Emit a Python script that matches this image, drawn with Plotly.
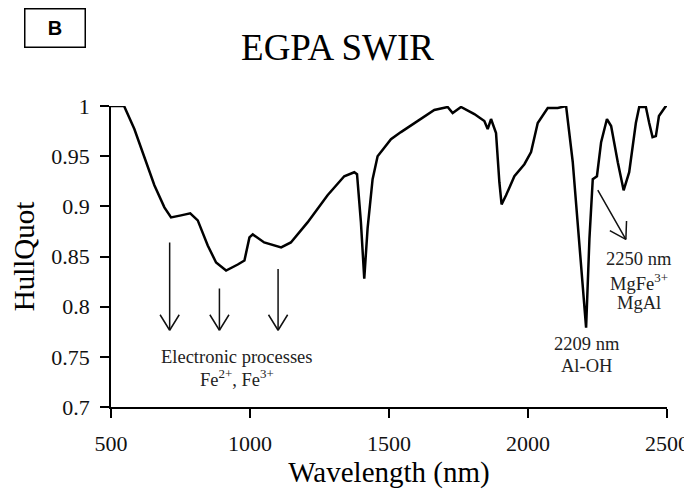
import math
import plotly.graph_objects as go

# ---- data ----
wavelength = [500, 520, 547, 584, 620, 656, 692, 716, 752, 785, 812, 848, 878, 914, 956, 980,
              998, 1010, 1051, 1112, 1147, 1207, 1279, 1339, 1375, 1385, 1399, 1411, 1423, 1441,
              1459, 1507, 1543, 1591, 1663, 1711, 1729, 1759, 1807, 1843, 1855, 1867, 1885, 1897,
              1905, 1921, 1951, 1987, 2011, 2035, 2071, 2107, 2137, 2161, 2179, 2209, 2221, 2233,
              2248, 2263, 2284, 2299, 2323, 2344, 2364, 2388, 2400, 2424, 2436, 2448, 2460, 2471,
              2496, 2500]
hullquot = [1.0, 1.0, 1.0, 0.977, 0.950, 0.921, 0.899, 0.889, 0.891, 0.893, 0.886, 0.861, 0.844,
            0.836, 0.842, 0.846, 0.869, 0.872, 0.864, 0.859, 0.864, 0.884, 0.911, 0.930, 0.934,
            0.932, 0.884, 0.828, 0.878, 0.927, 0.950, 0.967, 0.974, 0.983, 0.996, 0.999, 0.993,
            0.999, 0.992, 0.985, 0.977, 0.987, 0.973, 0.924, 0.902, 0.911, 0.930, 0.942, 0.954,
            0.983, 0.998, 0.998, 1.0, 0.944, 0.884, 0.779, 0.868, 0.927, 0.930, 0.964, 0.987,
            0.980, 0.944, 0.916, 0.934, 0.983, 0.999, 0.999, 0.983, 0.969, 0.970, 0.990, 1.0, 1.0]

x_ticks = [500, 1000, 1500, 2000, 2500]
y_ticks = [0.7, 0.75, 0.8, 0.85, 0.9, 0.95, 1.0]
y_ticktext = ["0.7", "0.75", "0.8", "0.85", "0.9", "0.95", "1"]

# arrows: (tail wavelength, tail value, tip wavelength, tip value)
arrows = [
    (711, 0.8654, 711, 0.7765),
    (890, 0.8195, 890, 0.7765),
    (1101, 0.839, 1101, 0.7765),
    (2248, 0.9177, 2352, 0.867),
]

SERIF = "Times New Roman, Liberation Serif, serif"

W, H = 692, 498
ML, MR, MT, MB = 103, 33, 98, 99
XR = [500, 2500]
YR = [0.7, 1.0]
PW, PH = W - ML - MR, H - MT - MB
px_per_x = PW / (XR[1] - XR[0])
px_per_y = PH / (YR[1] - YR[0])

fig = go.Figure()
fig.add_trace(go.Scatter(x=wavelength, y=hullquot, mode="lines",
                         line=dict(color="black", width=2.5), showlegend=False,
                         hoverinfo="skip"))

annotations = []
ARROW_COLOR = "#111"
HEAD_LEN, HEAD_HALF = 17, 10.5
for tx, ty, hx, hy in arrows:
    # shaft
    annotations.append(dict(x=hx, y=hy, ax=tx, ay=ty, xref="x", yref="y",
                            axref="x", ayref="y", text="", showarrow=True, arrowhead=0,
                            arrowwidth=1.5, arrowcolor=ARROW_COLOR, standoff=0, startstandoff=0))
    # open V head, drawn in screen pixels from the tip
    dx = (hx - tx) * px_per_x
    dy = -(hy - ty) * px_per_y
    L = math.hypot(dx, dy)
    ux, uy = dx / L, dy / L
    px_, py_ = -uy, ux
    for s in (1, -1):
        ox = -HEAD_LEN * ux + s * HEAD_HALF * px_
        oy = -HEAD_LEN * uy + s * HEAD_HALF * py_
        annotations.append(dict(x=hx, y=hy, ax=ox, ay=oy, xref="x", yref="y",
                                axref="pixel", ayref="pixel", text="", showarrow=True,
                                arrowhead=0, arrowwidth=1.5, arrowcolor=ARROW_COLOR,
                                standoff=0, startstandoff=0))

txt_font = dict(family=SERIF, size=18.5, color="#222")
labels = [
    (954, 0.7494, "Electronic processes"),
    (954, 0.7285, "Fe<sup>2+</sup>, Fe<sup>3+</sup>"),
    (2211, 0.763, "2209 nm"),
    (2211, 0.7405, "Al-OH"),
    (2400, 0.848, "2250 nm"),
    (2400, 0.8247, "MgFe<sup>3+</sup>"),
    (2400, 0.804, "MgAl"),
]
for lx, ly, t in labels:
    annotations.append(dict(x=lx, y=ly, xref="x", yref="y", text=t, showarrow=False,
                            font=txt_font, xanchor="center", yanchor="middle"))

# panel letter box (centre at ~(47, 20) in figure pixels)
annotations.append(dict(x=(47 - ML) / PW, y=(H - MB - 20) / PH,
                        xref="paper", yref="paper", text="<b>B</b>",
                        showarrow=False, font=dict(family="Arial, Liberation Sans, sans-serif",
                                                   size=20, color="black"),
                        width=57, height=35, bordercolor="black", borderwidth=1.5,
                        bgcolor="white", xanchor="center", yanchor="middle"))

fig.update_layout(
    width=W, height=H,
    margin=dict(l=ML, r=MR, t=MT, b=MB, autoexpand=False),
    paper_bgcolor="white", plot_bgcolor="white",
    title=dict(text="EGPA SWIR", font=dict(family=SERIF, size=37, color="black"),
               xref="paper", x=(329.5 - ML) / PW, xanchor="center",
               yref="container", y=0.922, yanchor="middle"),
    annotations=annotations,
    xaxis=dict(range=XR, tickvals=x_ticks, showgrid=False, zeroline=False, automargin=False,
               showline=True, linecolor="black", linewidth=1.5,
               ticks="outside", ticklen=9, tickwidth=1.5, tickcolor="black",
               tickfont=dict(family=SERIF, size=22, color="#111"),
               ticklabelstandoff=7,
               title=dict(text="Wavelength (nm)", font=dict(family=SERIF, size=29, color="black"),
                          standoff=4)),
    yaxis=dict(range=YR, tickvals=y_ticks, ticktext=y_ticktext, showgrid=False, automargin=False,
               zeroline=False, showline=True, linecolor="black", linewidth=1.5,
               ticks="outside", ticklen=9, tickwidth=1.5, tickcolor="black",
               tickfont=dict(family=SERIF, size=22, color="#111"),
               ticklabelstandoff=6,
               title=dict(text="HullQuot", font=dict(family=SERIF, size=29, color="black"),
                          standoff=9)),
)

fig.write_html("out.html")
